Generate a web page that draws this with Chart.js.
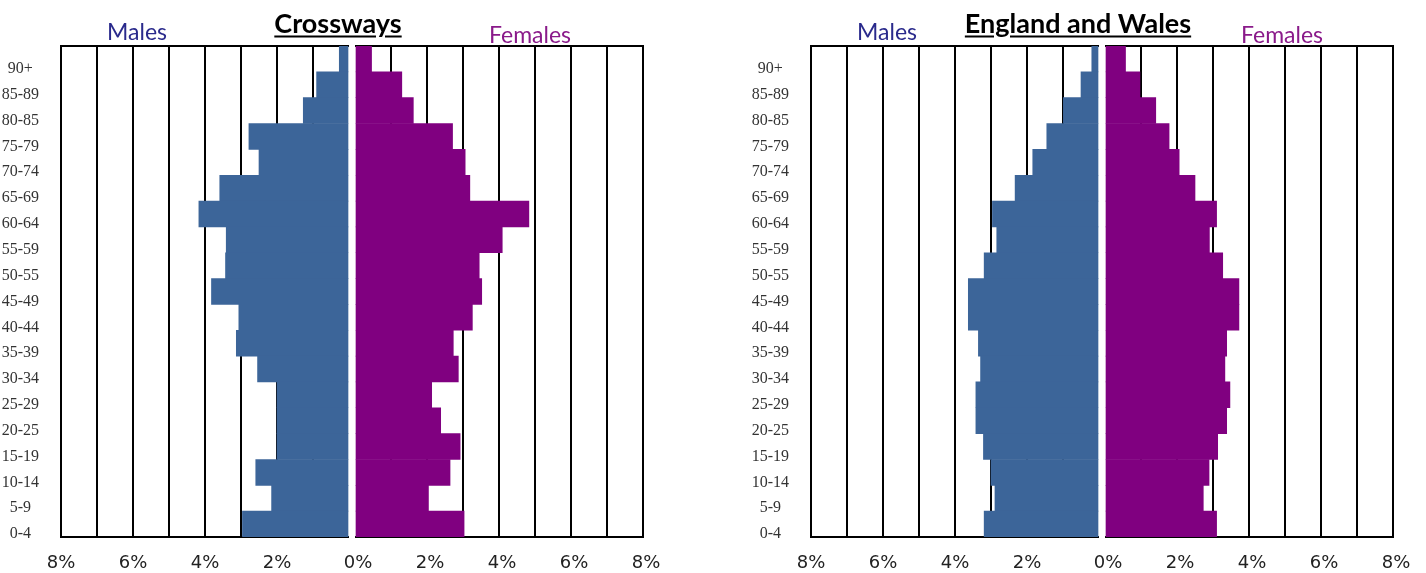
<!DOCTYPE html>
<html><head><meta charset="utf-8">
<script src="https://cdn.jsdelivr.net/npm/chart.js@4.4.1/dist/chart.umd.min.js"></script>
<style>
html,body{margin:0;padding:0;background:#fff;}
body{width:1426px;height:573px;position:relative;overflow:hidden;}
.box{position:absolute;top:0;}
.lbl{position:absolute;transform:translate(-50%,-50%);white-space:nowrap;line-height:1;font-family:Lato,'Open Sans',sans-serif;}
.side{font-size:23px;}
.ttl{font-size:27px;font-weight:bold;color:#000;text-decoration:underline;text-underline-offset:3px;}
</style></head><body>
<div class="box" style="left:0px"><canvas id="c1" width="360" height="573"></canvas></div>
<div class="box" style="left:315px"><canvas id="c2" width="368" height="573"></canvas></div>
<div class="box" style="left:750px"><canvas id="c3" width="360" height="573"></canvas></div>
<div class="box" style="left:1065px"><canvas id="c4" width="368" height="573"></canvas></div>
<div class="lbl side" style="left:137px;top:31px;color:#2a2a8c">Males</div>
<div class="lbl ttl" style="left:338px;top:22px">Crossways</div>
<div class="lbl side" style="left:530px;top:34px;color:#8a1a8a">Females</div>
<div class="lbl side" style="left:887px;top:31px;color:#2a2a8c">Males</div>
<div class="lbl ttl" style="left:1078px;top:22px">England and Wales</div>
<div class="lbl side" style="left:1282px;top:34px;color:#8a1a8a">Females</div>
<script>
const ageGroups = ['90+','85-89','80-85','75-79','70-74','65-69','60-64','55-59','50-55','45-49','40-44','35-39','30-34','25-29','20-25','15-19','10-14','5-9','0-4'];
const crosswaysMales   = [0.27,0.90,1.27,2.78,2.50,3.59,4.17,3.41,3.43,3.82,3.06,3.13,2.54,2.00,2.00,2.00,2.59,2.15,2.96];
const crosswaysFemales = [0.46,1.30,1.62,2.71,3.06,3.19,4.83,4.09,3.45,3.52,3.26,2.73,2.87,2.13,2.38,2.92,2.64,2.04,3.03];
const ewMales          = [0.20,0.50,0.99,1.45,1.84,2.33,2.96,2.84,3.19,3.63,3.63,3.35,3.29,3.42,3.42,3.21,3.00,2.89,3.19];
const ewFemales        = [0.57,0.97,1.41,1.78,2.06,2.50,3.10,2.90,3.27,3.72,3.72,3.38,3.33,3.47,3.38,3.13,2.89,2.73,3.10];
const xTicks = [0,1,2,3,4,5,6,7,8];

const MALE_COLOR = '#3c6599';
const FEMALE_COLOR = '#800080';

// Three-sided frame (top, bottom, outer side); the inner side at 0% is left open.
const boxPlugin = {
  id: 'box',
  beforeDatasetsDraw(chart, args, opts) {
    const {ctx, chartArea: a} = chart;
    ctx.save();
    ctx.strokeStyle = '#000';
    ctx.lineWidth = 2;
    ctx.beginPath();
    if (opts.male) {
      ctx.moveTo(a.right, a.top); ctx.lineTo(a.left, a.top);
      ctx.lineTo(a.left, a.bottom); ctx.lineTo(a.right, a.bottom);
    } else {
      ctx.moveTo(a.left, a.top); ctx.lineTo(a.right, a.top);
      ctx.lineTo(a.right, a.bottom); ctx.lineTo(a.left, a.bottom);
    }
    ctx.stroke();
    ctx.restore();
  }
};

function makeChart(id, values, isMale) {
  new Chart(document.getElementById(id), {
    type: 'bar',
    data: {
      labels: ageGroups,
      datasets: [{
        data: values,
        backgroundColor: isMale ? MALE_COLOR : FEMALE_COLOR,
        borderWidth: 0,
        barPercentage: 1,
        categoryPercentage: 1
      }]
    },
    options: {
      indexAxis: 'y',
      responsive: false,
      animation: false,
      layout: { padding: { top: 46, bottom: 0, left: isMale ? 0 : 40, right: isMale ? 11 : 40 } },
      plugins: { legend: { display: false }, tooltip: { enabled: false }, title: { display: false }, box: { male: isMale } },
      scales: {
        x: {
          type: 'linear',
          min: xTicks[0], max: xTicks[xTicks.length - 1],
          reverse: isMale,
          afterBuildTicks: s => { s.ticks = xTicks.map(v => ({value: v})); },
          afterFit: s => { s.height = 36; },
          ticks: {
            autoSkip: false, maxRotation: 0,
            padding: 16,
            labelOffset: isMale ? 0 : 3,
            font: { family: 'DejaVu Sans', size: 18 },
            color: '#222',
            callback: v => (v % 2 === 0 && !(isMale && v === 0)) ? v + '%' : ''
          },
          grid: {
            color: c => (c.tick && c.tick.value === 0) ? 'rgba(0,0,0,0)' : '#000',
            lineWidth: 2, drawTicks: false
          },
          border: { display: false }
        },
        y: {
          display: isMale,
          grid: { display: false },
          border: { display: false },
          afterFit: s => { s.width = isMale ? 61 : 0; },
          ticks: {
            crossAlign: 'center',
            padding: 14,
            labelOffset: 10,
            font: { family: 'Liberation Serif', size: 16 },
            color: '#333'
          }
        }
      }
    },
    plugins: [boxPlugin]
  });
}

makeChart('c1', crosswaysMales, true);
makeChart('c2', crosswaysFemales, false);
makeChart('c3', ewMales, true);
makeChart('c4', ewFemales, false);
</script>
</body></html>
